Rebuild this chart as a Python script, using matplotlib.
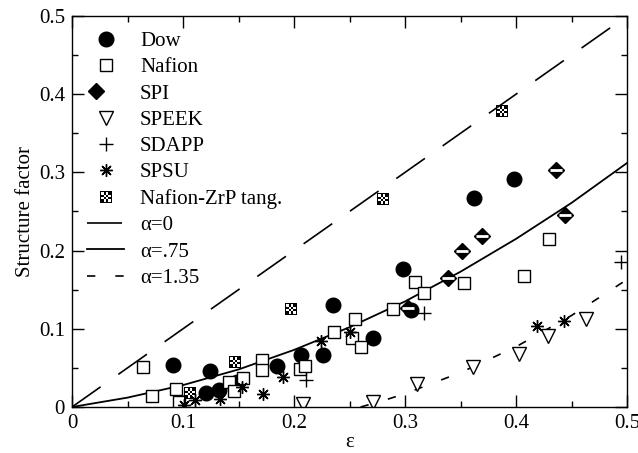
import numpy as np
import matplotlib
matplotlib.use('Agg')
import matplotlib.pyplot as plt
from matplotlib.path import Path
from matplotlib.legend_handler import HandlerTuple

plt.rcParams['font.family'] = ['Liberation Serif', 'DejaVu Serif']

# measured structure factors vs strain
dow_x = [0.091, 0.121, 0.124, 0.132, 0.149, 0.185, 0.206, 0.226, 0.235, 0.271, 0.298, 0.305, 0.362, 0.398]
dow_y = [0.054, 0.018, 0.046, 0.022, 0.032, 0.052, 0.066, 0.067, 0.130, 0.088, 0.176, 0.124, 0.267, 0.292]

nafion_x = [0.064, 0.072, 0.094, 0.096, 0.141, 0.146, 0.154, 0.171, 0.171, 0.205, 0.210, 0.236, 0.252,
            0.255, 0.260, 0.289, 0.309, 0.317, 0.353, 0.407, 0.430]
nafion_y = [0.051, 0.014, 0.023, 0.007, 0.032, 0.020, 0.037, 0.060, 0.047, 0.049, 0.052, 0.096, 0.088,
            0.113, 0.077, 0.125, 0.160, 0.146, 0.159, 0.168, 0.215]

spi_x = [0.303, 0.339, 0.351, 0.369, 0.436, 0.444]
spi_y = [0.126, 0.165, 0.200, 0.219, 0.303, 0.246]

speek_x = [0.208, 0.271, 0.311, 0.361, 0.403, 0.429, 0.463]
speek_y = [0.004, 0.007, 0.029, 0.051, 0.068, 0.091, 0.112]

sdapp_x = [0.211, 0.317, 0.495]
sdapp_y = [0.034, 0.120, 0.186]

spsu_x = [0.101, 0.111, 0.133, 0.153, 0.172, 0.190, 0.224, 0.250, 0.419, 0.443]
spsu_y = [0.002, 0.009, 0.010, 0.026, 0.017, 0.038, 0.084, 0.096, 0.104, 0.110]

zrp_x = [0.106, 0.147, 0.197, 0.280, 0.387]
zrp_y = [0.018, 0.058, 0.125, 0.266, 0.379]

# model curves
a0_x = [0.0, 0.5]
a0_y = [0.0, 0.5]
a75_x = [0.0, 0.05, 0.10, 0.15, 0.20, 0.25, 0.30, 0.35, 0.40, 0.45, 0.50]
a75_y = [0.0, 0.012, 0.028, 0.048, 0.073, 0.102, 0.135, 0.173, 0.215, 0.261, 0.312]
a135_x = [0.26, 0.28, 0.30, 0.35, 0.40, 0.45, 0.50]
a135_y = [0.0, 0.008, 0.017, 0.044, 0.077, 0.117, 0.163]

ticks = [0.0, 0.1, 0.2, 0.3, 0.4, 0.5]
tick_labels = ['0', '0.1', '0.2', '0.3', '0.4', '0.5']


def checker_marker():
    verts, codes = [], []

    def box(x0, y0, x1, y1, ccw=True):
        pts = [(x0, y0), (x1, y0), (x1, y1), (x0, y1)]
        if not ccw:
            pts = pts[::-1]
        verts.extend(pts + [pts[0]])
        codes.extend([Path.MOVETO, Path.LINETO, Path.LINETO, Path.LINETO, Path.CLOSEPOLY])

    box(-1, -1, 1, 1)
    box(-0.8, -0.8, 0.8, 0.8, ccw=False)
    n = 4
    w = 1.6 / n
    for i in range(n):
        for j in range(n):
            if (i + j) % 2 == 0:
                box(-0.8 + i * w, -0.8 + j * w, -0.8 + (i + 1) * w, -0.8 + (j + 1) * w)
    return Path(verts, codes)


fig = plt.figure(figsize=(6.38, 4.53), dpi=100)
ax = fig.add_axes([72 / 638, 46 / 453, 555 / 638, 391 / 453])

fs = 15
l0, = ax.plot(a0_x, a0_y, color='black', lw=1.2, linestyle=(0, (21, 13)))
l1, = ax.plot(a75_x, a75_y, color='black', lw=1.3)
l2, = ax.plot(a135_x, a135_y, color='black', lw=1.2, linestyle=(0, (5, 12)))

h_dow, = ax.plot(dow_x, dow_y, 'o', color='black', ms=10.5, ls='none')
h_naf, = ax.plot(nafion_x, nafion_y, 's', mfc='white', mec='black', mew=1.0, ms=8.5, ls='none')
h_spi_a, = ax.plot(spi_x, spi_y, 'D', color='black', ms=8, ls='none')
h_spi_b, = ax.plot(spi_x, spi_y, '_', color='white', ms=8, mew=2.0, ls='none')
h_speek, = ax.plot(speek_x, speek_y, 'v', mfc='white', mec='black', mew=1.0, ms=9.5, ls='none')
h_sdapp, = ax.plot(sdapp_x, sdapp_y, '+', color='black', mew=1.0, ms=9.5, ls='none')
h_spsu, = ax.plot(spsu_x, spsu_y, marker=(8, 2, 0), color='black', mew=1.0, ms=9, ls='none')
h_zrp, = ax.plot(zrp_x, zrp_y, marker=checker_marker(), color='black', mew=0, ms=8.5, ls='none')

ax.set_xlim(0, 0.5)
ax.set_ylim(0, 0.5)
ax.set_xticks(ticks)
ax.set_xticklabels(tick_labels)
ax.set_yticks(ticks)
ax.set_yticklabels(tick_labels)
ax.set_xticks(np.arange(0.05, 0.5, 0.1), minor=True)
ax.set_yticks(np.arange(0.05, 0.5, 0.1), minor=True)
ax.tick_params(which='both', direction='in', top=True, right=True, width=1.0, labelsize=fs, pad=5)
ax.tick_params(which='major', length=8.5)
ax.tick_params(which='minor', length=4.5)
for s in ax.spines.values():
    s.set_linewidth(1.0)

ax.set_xlabel('ε', fontsize=fs, labelpad=0)
ax.set_ylabel('Structure factor', fontsize=fs, labelpad=3)

handles = [h_dow, h_naf, (h_spi_a, h_spi_b), h_speek, h_sdapp, h_spsu, h_zrp, l0, l1, l2]
labels = ['Dow', 'Nafion', 'SPI', 'SPEEK', 'SDAPP', 'SPSU', 'Nafion-ZrP tang.',
          'α=0', 'α=.75', 'α=1.35']
ax.legend(handles, labels, loc='upper left', bbox_to_anchor=(0.027, 0.96), frameon=False,
          fontsize=fs, handlelength=1.8, handletextpad=0.75, labelspacing=0.32,
          borderpad=0, borderaxespad=0, handler_map={tuple: HandlerTuple(ndivide=None)})

fig.savefig('out.png', dpi=100)
